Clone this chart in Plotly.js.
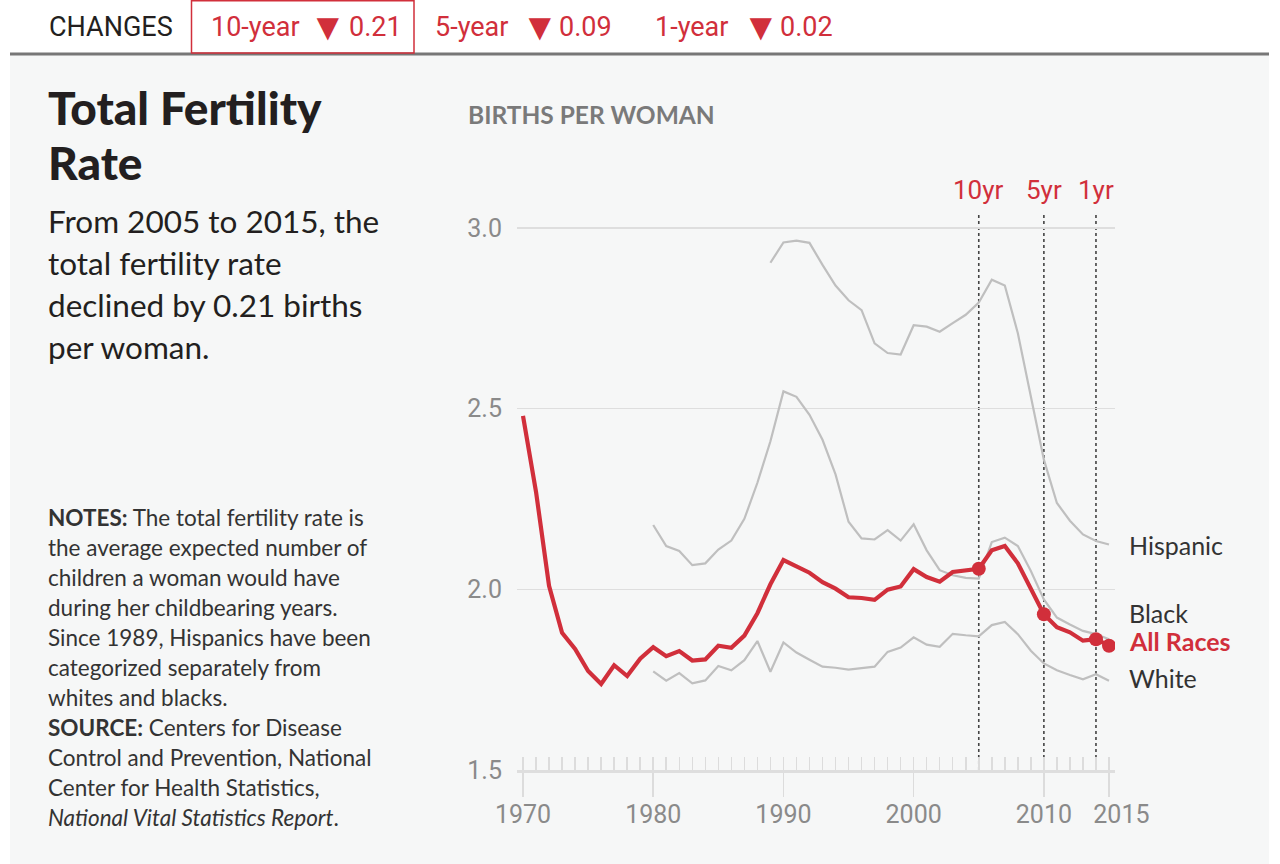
<!DOCTYPE html>
<html><head><meta charset="utf-8">
<script src="https://cdn.plot.ly/plotly-3.0.1.min.js"></script>
<style>html,body{margin:0;padding:0;background:#fff;}#chart{width:1280px;height:864px;}</style>
</head><body><div id="chart"></div>
<script>
// ---------- data ----------
const allRacesYears = [1970,1971,1972,1973,1974,1975,1976,1977,1978,1979,1980,1981,1982,1983,1984,1985,1986,1987,1988,1989,1990,1991,1992,1993,1994,1995,1996,1997,1998,1999,2000,2001,2002,2003,2004,2005,2006,2007,2008,2009,2010,2011,2012,2013,2014,2015];
const allRaces = [2.48,2.27,2.01,1.88,1.835,1.774,1.738,1.790,1.760,1.808,1.840,1.815,1.829,1.803,1.806,1.844,1.838,1.872,1.934,2.014,2.081,2.062,2.046,2.020,2.002,1.978,1.976,1.971,1.999,2.008,2.056,2.034,2.021,2.048,2.052,2.057,2.108,2.120,2.072,2.002,1.931,1.895,1.881,1.858,1.862,1.844];
const raceYears = [1980,1981,1982,1983,1984,1985,1986,1987,1988,1989,1990,1991,1992,1993,1994,1995,1996,1997,1998,1999,2000,2001,2002,2003,2004,2005,2006,2007,2008,2009,2010,2011,2012,2013,2014,2015];
const black = [2.178,2.120,2.106,2.067,2.072,2.110,2.135,2.195,2.295,2.410,2.548,2.533,2.483,2.414,2.318,2.187,2.141,2.138,2.164,2.135,2.180,2.108,2.053,2.039,2.032,2.030,2.131,2.143,2.120,2.051,1.972,1.922,1.903,1.885,1.876,1.862];
const white = [1.773,1.747,1.768,1.740,1.748,1.788,1.776,1.804,1.857,1.772,1.853,1.825,1.805,1.786,1.783,1.778,1.782,1.786,1.827,1.839,1.867,1.847,1.841,1.877,1.873,1.870,1.901,1.910,1.876,1.830,1.795,1.776,1.763,1.751,1.765,1.747];
const hispanicYears = [1989,1990,1991,1992,1993,1994,1995,1996,1997,1998,1999,2000,2001,2002,2003,2004,2005,2006,2007,2008,2009,2010,2011,2012,2013,2014,2015];
const hispanic = [2.904,2.960,2.965,2.959,2.898,2.841,2.800,2.773,2.681,2.654,2.650,2.731,2.727,2.713,2.737,2.760,2.794,2.857,2.841,2.709,2.534,2.359,2.239,2.190,2.152,2.134,2.124];
const markedYears = [2005,2010,2014,2015];
const changeYears = [2005,2010,2014];
const changeLabels = ['10yr','5yr','1yr'];
const changePeriods = ['10-year','5-year','1-year'];
const changeValues = ['0.21','0.09','0.02'];
const xTickVals = [1970,1980,1990,2000,2010,2015];
const xTickText = ['1970','1980','1990','2000','2010','\u00a0\u00a0\u00a0\u00a02015'];
const yTickVals = [1.5,2.0,2.5,3.0];
const yTickText = ['1.5','2.0','2.5','3.0'];
const seriesNames = ['Hispanic','Black','All Races','White'];
const seriesLabelY = [2.1228,1.9345,1.857,1.7546];

// ---------- styles ----------
const RED = '#d12f3b', GRAY = '#bfbfbf', INK = '#231f20', TXT = '#333333', TICK = '#8a8a8a', PANEL = '#f6f7f7';
const SANS = 'Lato, "Open Sans", sans-serif';
const NARROW = '"Liberation Sans Narrow", Roboto, sans-serif';
const L = 517, R = 1115, T = 200, B = 770; // plot box in px
const xp = px => (px - L) / (R - L);
const yp = py => (B - py) / (B - T);

const traces = [
  {x: hispanicYears, y: hispanic, mode:'lines', line:{color:GRAY,width:2.2}, hoverinfo:'skip'},
  {x: raceYears, y: black, mode:'lines', line:{color:GRAY,width:2.2}, hoverinfo:'skip'},
  {x: raceYears, y: white, mode:'lines', line:{color:GRAY,width:2.2}, hoverinfo:'skip'},
  {x: allRacesYears, y: allRaces, mode:'lines', line:{color:RED,width:4.2}, hoverinfo:'skip'},
  {x: markedYears, y: markedYears.map(y => allRaces[allRacesYears.indexOf(y)]), xaxis:'x2', mode:'markers',
   marker:{color:RED,size:14}, hoverinfo:'skip'}
];

const ann = [];
function txt(text, px, py, size, color, family, weight) {
  ann.push({text, xref:'paper', yref:'paper', x:xp(px), y:yp(py), xanchor:'left', yanchor:'middle',
    showarrow:false, font:{size, color, family, weight: weight || 'normal'}});
}
// header
txt('CHANGES', 47, 27, 27, INK, NARROW);
const periodX = [209, 433, 653], triX = [307, 519, 740], valueX = [347, 557, 778];
changePeriods.forEach((p,i) => {
  txt(p, periodX[i], 27, 27, RED, NARROW);
  txt('▼', triX[i], 27, 38, RED, NARROW);
  txt(changeValues[i], valueX[i], 27, 27, RED, NARROW);
});
// title & subtitle
txt('Total Fertility', 46, 108, 46, INK, SANS, 900);
txt('Rate', 46, 162, 46, INK, SANS, 900);
['From 2005 to 2015, the','total fertility rate','declined by 0.21 births','per woman.'].forEach((s,i) =>
  txt(s, 46, 221 + 42*i, 31.5, INK, SANS));
// notes
['<b>NOTES:</b> The total fertility rate is','the average expected number of','children a woman would have',
 'during her childbearing years.','Since 1989, Hispanics have been','categorized separately from',
 'whites and blacks.','<b>SOURCE:</b> Centers for Disease','Control and Prevention, National',
 'Center for Health Statistics,','<i>National Vital Statistics Report</i>.'].forEach((s,i) =>
  txt(s, 46, 517 + 30*i, 22.5, TXT, SANS));
// axis caption
txt('<b>BIRTHS PER WOMAN</b>', 466, 115, 24.5, '#7a7a7a', SANS);
// change labels above dotted lines
changeYears.forEach((yr,i) => ann.push({text:changeLabels[i], xref:'x', yref:'paper', x:yr, y:yp(190),
  xanchor:'center', yanchor:'middle', showarrow:false, font:{size:26, color:RED, family:NARROW}}));
// series labels
seriesNames.forEach((s,i) => ann.push({text: s==='All Races' ? '<b>'+s+'</b>' : s, xref:'paper', yref:'y',
  x:xp(1127), y:seriesLabelY[i], xanchor:'left', yanchor:'middle', showarrow:false,
  font:{size:25, color: s==='All Races' ? RED : TXT, family:SANS}}));

const shapes = [
  {type:'rect', xref:'paper', yref:'paper', x0:xp(10), x1:xp(1269), y0:yp(866), y1:yp(54), fillcolor:PANEL, line:{width:0}, layer:'below'},
  {type:'line', xref:'paper', yref:'paper', x0:xp(10), x1:xp(1269), y0:yp(54), y1:yp(54), line:{color:'#777777', width:3}, layer:'below'},
  {type:'rect', xref:'paper', yref:'paper', x0:xp(191.5), x1:xp(414), y0:yp(53), y1:yp(0.8), fillcolor:'rgba(0,0,0,0)', line:{color:RED, width:1.5}, layer:'above'}
];
changeYears.forEach(yr => shapes.push({type:'line', xref:'x', yref:'y', x0:yr, x1:yr, y0:1.5, y1:3.042,
  line:{color:'#444444', width:1.6, dash:'dot'}, layer:'below'}));

const xr = [1970 - (523 - L) / 13.022, 1970 - (523 - L) / 13.022 + (R - L) / 13.022];
const layout = {
  width:1280, height:864, margin:{l:L, r:1280-R, t:T, b:864-B, pad:0},
  paper_bgcolor:'#ffffff', plot_bgcolor:PANEL, showlegend:false,
  xaxis:{range:xr, tickmode:'array', tickvals:xTickVals, ticktext:xTickText, tickangle:0, ticks:'outside', ticklen:24, tickwidth:1.5, tickcolor:'#dcdcdc',
    showgrid:false, zeroline:false, showline:true, linecolor:'#dedede', linewidth:3,
    tickfont:{family:NARROW, size:25, color:TICK}, ticklabelstandoff:-4, fixedrange:true},
  xaxis2:{overlaying:'x', anchor:'y', side:'bottom', range:xr, tickmode:'linear', tick0:1970, dtick:1,
    ticks:'inside', ticklen:13, tickwidth:1.5, tickcolor:'#dcdcdc', showticklabels:false, showgrid:false,
    zeroline:false, showline:false, fixedrange:true},
  yaxis:{range:[1.5, 1.5 + (B - T) / 361.3], tickmode:'array', tickvals:yTickVals, ticktext:yTickText, ticks:'',
    showgrid:true, gridcolor:'#dedede', gridwidth:1.5, zeroline:false, showline:false,
    tickfont:{family:NARROW, size:25, color:TICK}, ticklabelstandoff:14, fixedrange:true},
  shapes, annotations:ann
};
Plotly.newPlot('chart', traces, layout, {displayModeBar:false, staticPlot:true});
</script></body></html>
